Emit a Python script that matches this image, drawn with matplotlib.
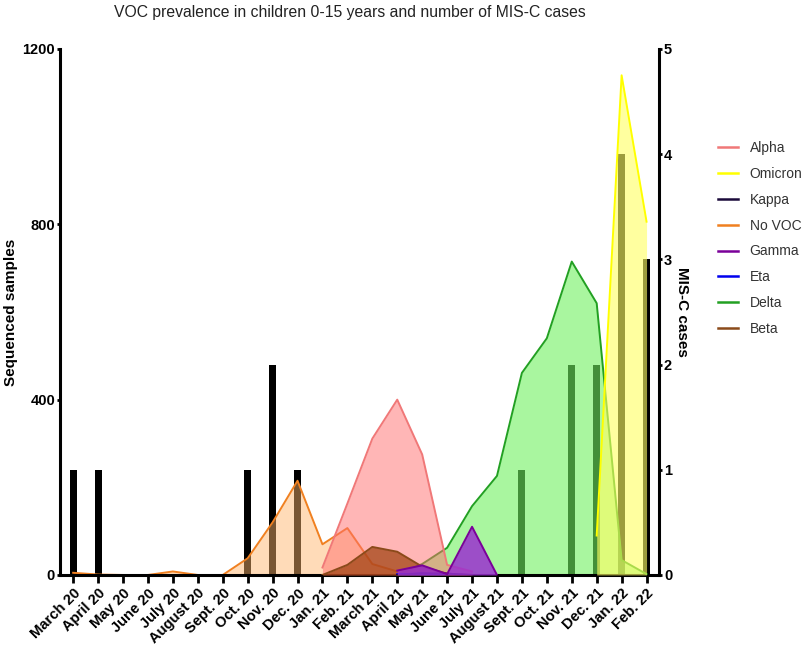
import numpy as np
import matplotlib
matplotlib.use("Agg")
import matplotlib.pyplot as plt

plt.rcParams['font.family'] = ['Liberation Sans', 'DejaVu Sans']

nan = np.nan
months = ["March 20", "April 20", "May 20", "June 20", "July 20", "August 20",
          "Sept. 20", "Oct. 20", "Nov. 20", "Dec. 20", "Jan. 21", "Feb. 21",
          "March 21", "April 21", "May 21", "June 21", "July 21", "August 21",
          "Sept. 21", "Oct. 21", "Nov. 21", "Dec. 21", "Jan. 22", "Feb. 22"]

# sequenced samples per variant (left axis)
alpha   = [nan]*10 + [17, 163, 311, 400, 275, 23, 8] + [nan]*7
omicron = [nan]*21 + [90, 1140, 806]
kappa   = [nan]*13 + [0, 4, 3, 0] + [nan]*7
no_voc  = [5, 1, 0, 0, 8, 0, 0, 38, 120, 215, 70, 107, 25, 8, 5, 2] + [nan]*8
gamma   = [nan]*13 + [10, 22, 2, 110, 0] + [nan]*6
eta     = [nan]*13 + [2, 3, 0] + [nan]*8
delta   = [nan]*13 + [0, 25, 62, 157, 226, 461, 540, 715, 620, 34, 2]
beta    = [nan]*10 + [0, 23, 64, 53, 19, 3, 0] + [nan]*7

# MIS-C cases (right axis)
misc = [1, 1, 0, 0, 0, 0, 0, 1, 2, 1, 0, 0, 0, 0, 0, 0, 0, 0, 1, 0, 2, 2, 4, 3]

# name, values, line colour, fill colour, fill alpha, layer
series = [
    ("Alpha",   alpha,   "#f07878", "#ff6e6e", 0.5, 3),
    ("Omicron", omicron, "#ffff00", "#ffff64", 0.62, 4),
    ("Kappa",   kappa,   "#1a0a3a", "#3a2a6a", 0.4, 5.4),
    ("No VOC",  no_voc,  "#f08020", "#ffb56c", 0.48, 2),
    ("Gamma",   gamma,   "#7a0099", "#9a30d0", 0.85, 6),
    ("Eta",     eta,     "#0000ee", "#4040ff", 0.4, 5.2),
    ("Delta",   delta,   "#22a022", "#70f060", 0.6, 2.5),
    ("Beta",    beta,    "#8b4a1a", "#a0400f", 0.72, 5),
]

x = np.arange(len(months))

fig = plt.figure(figsize=(8.1, 6.48), dpi=100)
ax = fig.add_axes([0.074, 0.1127, 0.7396, 0.8117])
ax2 = ax.twinx()

# bars behind the fills
ax2.bar(x, misc, width=0.28, color="black", zorder=1)
ax2.set_ylim(0, 5)
ax.set_zorder(ax2.get_zorder() + 1)
ax.patch.set_visible(False)

for name, vals, lc, fc, a, z in series:
    v = np.array(vals, dtype=float)
    m = ~np.isnan(v)
    ax.fill_between(x[m], 0, v[m], color=fc, alpha=a, linewidth=0, zorder=z)
    ax.plot(x[m], v[m], color=lc, lw=1.4, label=name, zorder=z + 0.1)

ax.set_xlim(-0.53, 23.5)
ax.set_ylim(0, 1200)
ax.set_yticks([0, 400, 800, 1200])
ax2.set_yticks([0, 1, 2, 3, 4, 5])
ax.set_xticks(x)
ax.set_xticklabels(months, rotation=45, ha="right", rotation_mode="anchor",
                   fontweight="bold", fontsize=10.6)

for a_ in (ax, ax2):
    a_.spines["top"].set_visible(False)
    for s in a_.spines.values():
        s.set_linewidth(2.2)
    a_.tick_params(axis="y", width=2, length=2.5, pad=1, labelsize=10.5)
    for t in a_.get_yticklabels():
        t.set_fontweight("bold")
ax.spines["right"].set_visible(False)
ax2.spines["left"].set_visible(False)
ax2.spines["bottom"].set_visible(False)
ax.tick_params(axis="x", width=2, length=6, pad=2)

ax.set_ylabel("Sequenced samples", fontweight="bold", fontsize=11, labelpad=3)
ax2.set_ylabel("MIS-C cases", fontweight="bold", fontsize=11, rotation=270, labelpad=12)

fig.text(0.432, 0.981, "VOC prevalence in children 0-15 years and number of MIS-C cases",
         ha="center", va="center", fontsize=11.3, color="#222222")

leg = ax.legend(loc="upper left", bbox_to_anchor=(0.886, 0.782),
                bbox_transform=fig.transFigure, frameon=False, fontsize=10,
                handlelength=1.45, handletextpad=0.85, labelspacing=0.85,
                borderpad=0, borderaxespad=0)
for t in leg.get_texts():
    t.set_color("#333333")
for l in leg.get_lines():
    l.set_linewidth(1.8)

fig.savefig("out.png", dpi=100)
